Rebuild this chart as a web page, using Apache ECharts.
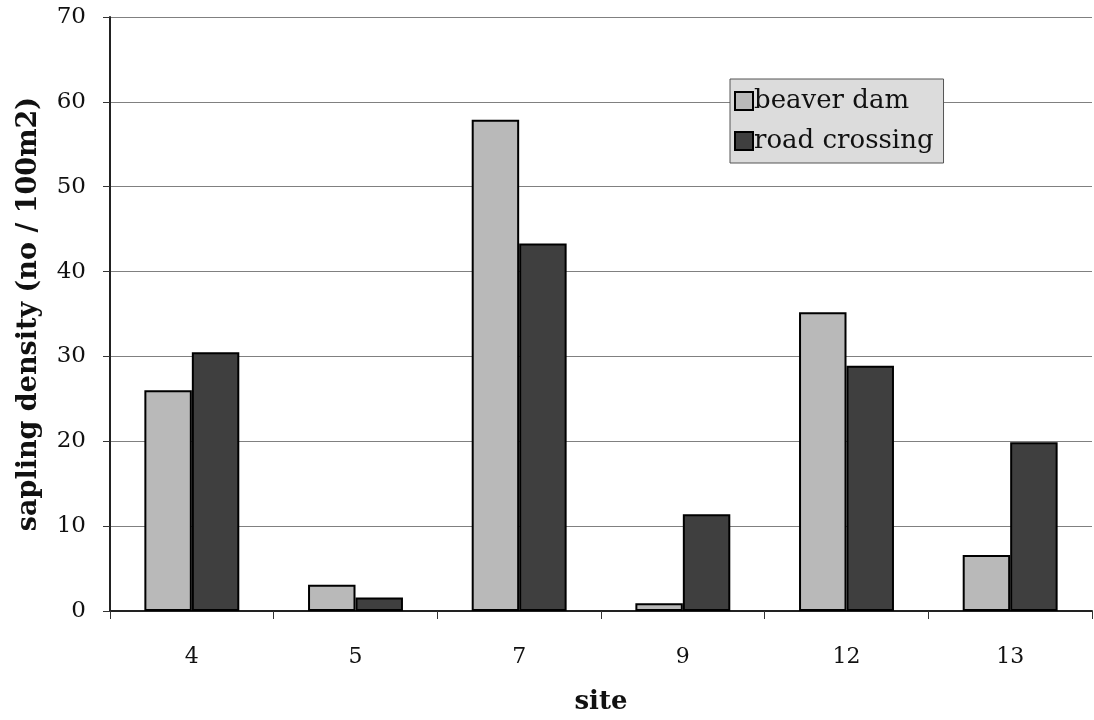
<!DOCTYPE html>
<html>
<head>
<meta charset="utf-8">
<script src="https://cdn.jsdelivr.net/npm/echarts@6/dist/echarts.min.js"></script>
<style>
html,body{margin:0;padding:0;background:#fff;}
#chart{width:1094px;height:720px;}
</style>
</head>
<body>
<div id="chart"></div>
<script>
const sites = ['4', '5', '7', '9', '12', '13'];
const beaverDam = [26.0, 3.1, 57.9, 0.9, 35.2, 6.6];
const roadCrossing = [30.5, 1.6, 43.3, 11.4, 28.9, 19.9];
const seriesNames = ['beaver dam', 'road crossing'];

const serif = '"DejaVu Serif", "Liberation Serif", serif';
const chart = echarts.init(document.getElementById('chart'));
chart.setOption({
  backgroundColor: '#ffffff',
  animation: false,
  grid: { left: 110, right: 2, top: 17, bottom: 104, containLabel: false },
  legend: {
    orient: 'vertical',
    left: 730,
    top: 79,
    data: seriesNames,
    icon: 'rect',
    backgroundColor: '#dcdcdc',
    borderColor: '#555',
    borderWidth: 1,
    padding: [9, 10, 9, 4],
    itemGap: 14,
    itemWidth: 18,
    itemHeight: 18,
    textStyle: { fontFamily: serif, fontSize: 26, color: '#111', padding: [0, 0, 0, -4] }
  },
  xAxis: {
    type: 'category',
    data: sites,
    name: 'site',
    nameLocation: 'middle',
    nameGap: 78,
    nameTextStyle: { fontFamily: serif, fontSize: 26, fontWeight: 'bold', color: '#111' },
    axisLine: { lineStyle: { color: '#222', width: 2 } },
    axisTick: { show: true, length: 8, lineStyle: { color: '#333' } },
    axisLabel: { fontFamily: serif, fontSize: 22, color: '#111', margin: 35 },
    splitLine: { show: false }
  },
  yAxis: {
    type: 'value',
    min: 0,
    max: 70,
    interval: 10,
    name: 'sapling density (no / 100m2)',
    nameLocation: 'middle',
    nameGap: 68,
    nameRotate: 90,
    nameTextStyle: { fontFamily: serif, fontSize: 27, fontWeight: 'bold', color: '#111' },
    axisLine: { show: true, lineStyle: { color: '#222', width: 2 } },
    axisTick: { show: true, length: 7, lineStyle: { color: '#333' } },
    axisLabel: { fontFamily: serif, fontSize: 23, color: '#111', margin: 24 },
    splitLine: { show: true, lineStyle: { color: '#808080', width: 1 } }
  },
  series: [
    {
      name: seriesNames[0],
      type: 'bar',
      data: beaverDam,
      barGap: '0%',
      barCategoryGap: '42%',
      itemStyle: { color: '#b9b9b9', borderColor: '#000', borderWidth: 2 }
    },
    {
      name: seriesNames[1],
      type: 'bar',
      data: roadCrossing,
      barGap: '0%',
      barCategoryGap: '42%',
      itemStyle: { color: '#3f3f3f', borderColor: '#000', borderWidth: 2 }
    }
  ]
});
</script>
</body>
</html>
